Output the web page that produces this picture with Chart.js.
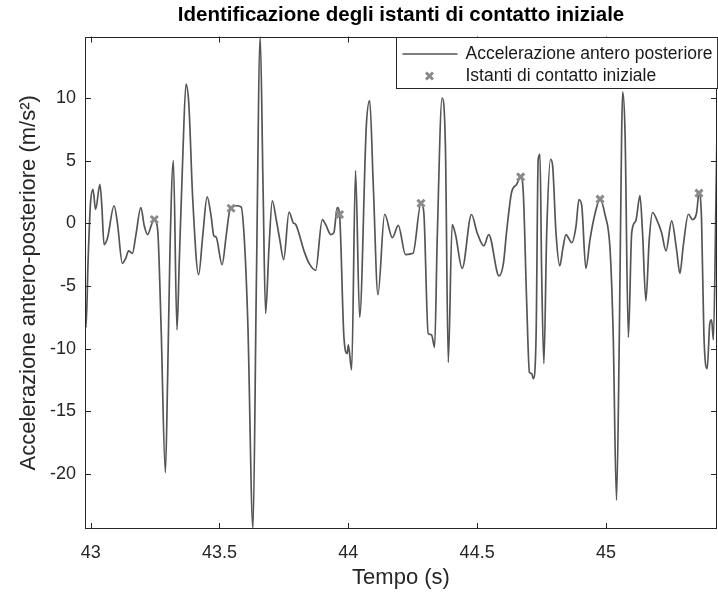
<!DOCTYPE html>
<html>
<head>
<meta charset="utf-8">
<title>Identificazione degli istanti di contatto iniziale</title>
<script src="https://cdn.jsdelivr.net/npm/chart.js@4.4.1/dist/chart.umd.min.js"></script>
<style>
  html, body { margin: 0; padding: 0; background: #fff; }
  #wrap { width: 718px; height: 592px; }
</style>
</head>
<body>
<div id="wrap"><canvas id="chart" width="718" height="592"></canvas></div>
<script>
// Tempo (s) e accelerazione antero-posteriore (m/s^2)
const timeValues = [
  42.978, 42.982, 42.990, 42.999, 43.009, 43.019, 43.036, 43.043, 43.052, 43.065,
  43.091, 43.104, 43.123, 43.136, 43.147, 43.162, 43.175, 43.195, 43.208, 43.221,
  43.238, 43.247, 43.260, 43.273, 43.290, 43.299, 43.308, 43.321, 43.335, 43.344,
  43.357, 43.370, 43.381, 43.396, 43.419, 43.435, 43.452, 43.468, 43.478, 43.487,
  43.510, 43.526, 43.542, 43.565, 43.584, 43.597, 43.610, 43.630, 43.643, 43.658,
  43.669, 43.679, 43.692, 43.705, 43.721, 43.734, 43.749, 43.770, 43.786, 43.796,
  43.828, 43.848, 43.873, 43.899, 43.912, 43.932, 43.944, 43.957, 43.966, 43.983,
  43.996, 44.000, 44.013, 44.028, 44.044, 44.070, 44.083, 44.097, 44.115, 44.141,
  44.171, 44.194, 44.222, 44.251, 44.282, 44.293, 44.310, 44.323, 44.335, 44.345,
  44.364, 44.377, 44.388, 44.403, 44.416, 44.442, 44.478, 44.500, 44.526, 44.545,
  44.585, 44.602, 44.614, 44.634, 44.653, 44.669, 44.679, 44.692, 44.703, 44.712,
  44.718, 44.729, 44.737, 44.744, 44.750, 44.759, 44.770, 44.785, 44.793, 44.806,
  44.821, 44.832, 44.845, 44.854, 44.867, 44.884, 44.895, 44.906, 44.922, 44.938,
  44.957, 44.977, 44.996, 45.016, 45.028, 45.041, 45.052, 45.061, 45.065, 45.074,
  45.087, 45.100, 45.116, 45.132, 45.142, 45.155, 45.168, 45.181, 45.197, 45.216,
  45.233, 45.255, 45.274, 45.287, 45.300, 45.320, 45.336, 45.352, 45.361, 45.371,
  45.380, 45.393, 45.403, 45.410, 45.417, 45.427, 45.431
];
const accelValues = [
  -6.0, -8.3, -3.0, 1.5, 2.7, 1.1, 3.1, 1.5, -1.7, -1.2,
  1.4, 0.0, -3.2, -2.8, -2.2, -2.4, -1.0, 1.26, -0.2, -0.9,
  0.0, 0.3, -0.5, -8.0, -19.9, -12.0, -2.0, 5.0, -8.5, -3.0,
  5.0, 11.1, 9.5, 2.0, -4.1, -1.0, 2.1, 0.5, -1.0, -1.1,
  -3.3, -1.0, 1.2, 1.4, 1.3, -1.5, -8.0, -24.4, -5.0, 14.9,
  3.0, -7.2, -2.0, 1.8, 0.2, -1.3, -2.9, 0.9, 0.05, -0.1,
  -2.2, -3.2, -3.75, 0.3, -0.1, -0.9, -0.75, 1.26, 0.7, -9.1,
  -10.4, -9.7, -11.7, 4.2, -7.5, 7.8, 9.8, 3.0, -5.7, 0.72,
  -1.15, -0.16, -2.5, -2.4, 1.6, 0.86, -8.8, -8.9, -9.9, -1.3,
  10.0, 6.0, -11.1, -0.1, -0.9, -3.6, 0.7, -0.75, -1.8, -0.9,
  -4.2, -3.2, -0.75, 2.5, 3.1, 3.7, 2.5, -6.1, -11.9, -12.0,
  -12.4, -8.8, 5.1, 5.5, -3.4, -11.2, -0.75, 5.1, 4.6, -0.75,
  -3.4, -2.1, -0.9, -1.15, -1.55, -0.2, 1.9, 1.4, -3.6, -1.3,
  0.72, 1.93, 0.72, -2.1, -8.8, -22.1, -8.8, 7.3, 10.5, 7.3,
  -9.1, -0.75, 0.2, 2.2, -0.75, -6.2, -1.3, 0.86, 0.3, -0.75,
  -2.2, 0.2, -2.1, -4.0, -1.8, 0.72, 0.3, 0.86, 2.4, 0.3,
  -8.8, -11.6, -8.0, -7.7, -9.3, 1.9, 7.4
];

// Istanti di contatto iniziale
const contactTimes = [43.247, 43.545, 43.966, 44.282, 44.669, 44.977, 45.361];
const contactValues = [0.3, 1.2, 0.7, 1.6, 3.7, 1.93, 2.4];

const xTickValues = [43, 43.5, 44, 44.5, 45];
const yTickValues = [-20, -15, -10, -5, 0, 5, 10];
const xRange = [42.978, 45.431];
const yRange = [-24.4, 14.9];

const lineLabel = 'Accelerazione antero posteriore';
const markerLabel = 'Istanti di contatto iniziale';

const FONT = '"Liberation Sans", Arial, Helvetica, sans-serif';
const AXIS_COLOR = '#262626';
const LINE_COLOR = '#555555';
const MARKER_COLOR = '#8a8a8a';

// MATLAB-like box, inward ticks and legend
const matlabAxes = {
  id: 'matlabAxes',
  afterDraw(chart) {
    const { ctx, chartArea: a, scales: { x, y } } = chart;
    const len = 6;
    ctx.save();
    ctx.strokeStyle = AXIS_COLOR;
    ctx.lineWidth = 1;
    ctx.beginPath();
    x.ticks.forEach(t => {
      const px = Math.round(x.getPixelForValue(t.value)) + 0.5;
      ctx.moveTo(px, a.bottom); ctx.lineTo(px, a.bottom - len);
      ctx.moveTo(px, a.top); ctx.lineTo(px, a.top + len);
    });
    y.ticks.forEach(t => {
      const py = Math.round(y.getPixelForValue(t.value)) + 0.5;
      ctx.moveTo(a.left, py); ctx.lineTo(a.left + len, py);
      ctx.moveTo(a.right, py); ctx.lineTo(a.right - len, py);
    });
    ctx.stroke();
    ctx.strokeRect(Math.round(a.left) + 0.5, Math.round(a.top) + 0.5,
      Math.round(a.width) - 1, Math.round(a.height) - 1);

    // legend box
    ctx.font = '17.5px ' + FONT;
    const textW = Math.max(ctx.measureText(lineLabel).width, ctx.measureText(markerLabel).width);
    const boxW = textW + 74;
    const boxH = 51;
    const bx = Math.round(a.right - boxW) + 0.5;
    const by = Math.round(a.top) + 0.5;
    ctx.fillStyle = '#fff';
    ctx.fillRect(bx, by, boxW, boxH);
    ctx.strokeRect(bx, by, boxW, boxH);

    const row1 = by + 16.5;
    const row2 = by + 38.5;
    ctx.strokeStyle = LINE_COLOR;
    ctx.lineWidth = 1.7;
    ctx.beginPath();
    ctx.moveTo(bx + 6, row1); ctx.lineTo(bx + 61, row1);
    ctx.stroke();

    ctx.strokeStyle = MARKER_COLOR;
    ctx.lineWidth = 3;
    const mx = bx + 33, r = 3.5;
    ctx.beginPath();
    ctx.moveTo(mx - r, row2 - r); ctx.lineTo(mx + r, row2 + r);
    ctx.moveTo(mx + r, row2 - r); ctx.lineTo(mx - r, row2 + r);
    ctx.stroke();

    ctx.fillStyle = '#1a1a1a';
    ctx.textBaseline = 'middle';
    ctx.textAlign = 'left';
    ctx.fillText(lineLabel, bx + 69, row1);
    ctx.fillText(markerLabel, bx + 69, row2);
    ctx.restore();
  }
};

const ctx = document.getElementById('chart').getContext('2d');
const chart = new Chart(ctx, {
  type: 'line',
  data: {
    datasets: [
      {
        label: markerLabel,
        type: 'scatter',
        data: contactTimes.map((t, i) => ({ x: t, y: contactValues[i] })),
        showLine: false,
        pointStyle: 'crossRot',
        pointRadius: 5,
        borderWidth: 3,
        borderColor: MARKER_COLOR,
        backgroundColor: MARKER_COLOR,
        order: 0
      },
      {
        label: lineLabel,
        data: timeValues.map((t, i) => ({ x: t, y: accelValues[i] })),
        borderColor: LINE_COLOR,
        borderWidth: 1.7,
        pointRadius: 0,
        fill: false,
        cubicInterpolationMode: 'monotone',
        order: 1
      }
    ]
  },
  options: {
    responsive: false,
    animation: false,
    devicePixelRatio: 1,
    layout: { autoPadding: false, padding: { left: 0, right: 1, top: 0, bottom: 0 } },
    plugins: {
      legend: { display: false },
      tooltip: { enabled: false },
      title: {
        display: true,
        fullSize: false,
        text: 'Identificazione degli istanti di contatto iniziale',
        color: '#000',
        font: { family: FONT, size: 20.5, weight: 'bold' },
        padding: { top: 3, bottom: 9 }
      }
    },
    scales: {
      x: {
        type: 'linear',
        min: xRange[0],
        max: xRange[1],
        grid: { display: false, drawTicks: false },
        border: { display: false },
        afterBuildTicks: scale => { scale.ticks = xTickValues.map(v => ({ value: v })); },
        afterFit: scale => {
          scale.height = 63;
          scale.paddingLeft = 0;
          scale.paddingRight = 0;
        },
        ticks: {
          color: AXIS_COLOR,
          padding: 13,
          maxRotation: 0,
          font: { family: FONT, size: 18 },
          callback: v => String(v)
        },
        title: {
          display: true,
          text: 'Tempo (s)',
          color: AXIS_COLOR,
          font: { family: FONT, size: 22 },
          padding: { top: 0, bottom: 1 }
        }
      },
      y: {
        type: 'linear',
        min: yRange[0],
        max: yRange[1],
        grid: { display: false, drawTicks: false },
        border: { display: false },
        afterBuildTicks: scale => { scale.ticks = yTickValues.map(v => ({ value: v })); },
        afterFit: scale => { scale.width = 85; },
        ticks: {
          color: AXIS_COLOR,
          padding: 9,
          font: { family: FONT, size: 18 },
          callback: v => String(v)
        },
        title: {
          display: true,
          text: 'Accelerazione antero-posteriore (m/s²)',
          color: AXIS_COLOR,
          font: { family: FONT, size: 22 },
          padding: { top: 16, bottom: 0 }
        }
      }
    }
  },
  plugins: [matlabAxes]
});
</script>
</body>
</html>
